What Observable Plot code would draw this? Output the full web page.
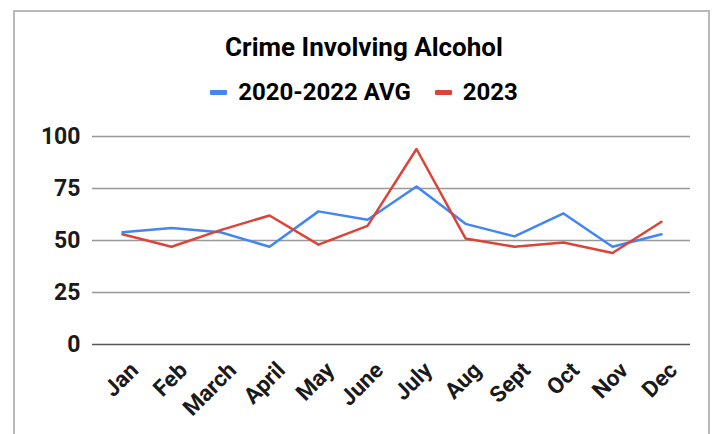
<!DOCTYPE html>
<html>
<head>
<meta charset="utf-8">
<script src="https://cdn.jsdelivr.net/npm/d3@7"></script>
<script src="https://cdn.jsdelivr.net/npm/@observablehq/plot@0.6"></script>
<style>
  html, body { margin: 0; padding: 0; background: #fff; width: 716px; height: 434px; overflow: hidden; font-family: Roboto, "Liberation Sans", sans-serif; }
  #card { position: absolute; left: 13px; top: 10px; width: 697px; height: 440px; border: 2px solid #b9b9b9; border-bottom: none; box-sizing: border-box; }
  #title { position: absolute; left: 0; top: 32px; width: 728px; text-align: center; font-weight: 700; font-size: 26px; line-height: 30px; color: #000; }
  #legend { position: absolute; left: 0; top: 78px; width: 728px; display: flex; justify-content: center; align-items: center; font-weight: 700; font-size: 24px; line-height: 28px; color: #000; }
  .sw { display: inline-block; width: 17px; height: 5px; margin-right: 11px; border-radius: 1px; }
  .item { display: flex; align-items: center; margin: 0 12px; }
  #chart { position: absolute; left: 0; top: 110px; }
</style>
</head>
<body>
<div id="card"></div>
<div id="title">Crime Involving Alcohol</div>
<div id="legend"></div>
<div id="chart"></div>
<script>
const months = ["Jan","Feb","March","April","May","June","July","Aug","Sept","Oct","Nov","Dec"];
const avg2020_2022 = [54, 56, 54, 47, 64, 60, 76, 58, 52, 63, 47, 53];
const y2023 = [53, 47, 55, 62, 48, 57, 94, 51, 47, 49, 44, 59];
const seriesNames = ["2020-2022 AVG", "2023"];
const seriesColors = ["#4285f4", "#db4437"];
const yTicks = [0, 25, 50, 75, 100];

const rows = [];
months.forEach((m, i) => {
  rows.push({month: m, value: avg2020_2022[i], series: seriesNames[0]});
  rows.push({month: m, value: y2023[i], series: seriesNames[1]});
});

const legend = document.getElementById("legend");
seriesNames.forEach((n, i) => {
  const it = document.createElement("div");
  it.className = "item";
  it.innerHTML = `<span class="sw" style="background:${seriesColors[i]}"></span><span>${n}</span>`;
  legend.appendChild(it);
});

const plot = Plot.plot({
  width: 716,
  height: 324,
  marginLeft: 92,
  marginRight: 26,
  marginTop: 26,
  marginBottom: 90,
  style: {fontFamily: "Roboto, sans-serif", background: "transparent", overflow: "visible"},
  x: {type: "point", domain: months, padding: 0.5, label: null},
  y: {domain: [0, 100], ticks: yTicks, label: null},
  color: {domain: seriesNames, range: seriesColors},
  marks: [
    Plot.gridY(yTicks.filter(d => d > 0), {stroke: "#999", strokeOpacity: 1, strokeWidth: 1.3}),
    Plot.ruleY([0], {stroke: "#555", strokeWidth: 1.6}),
    Plot.axisY(yTicks, {tickSize: 0, tickPadding: 12, fontSize: 23, fontWeight: "bold", fill: "#1a1a1a", label: null}),
    Plot.axisX({tickSize: 0, tickRotate: -45, tickPadding: 10, dx: 12, dy: 12, fontSize: 22.5, fontWeight: "bold", fill: "#1a1a1a", label: null}),
    Plot.line(rows, {x: "month", y: "value", stroke: "series", strokeWidth: 2.5, curve: "linear"})
  ]
});
document.getElementById("chart").appendChild(plot);
</script>
</body>
</html>
